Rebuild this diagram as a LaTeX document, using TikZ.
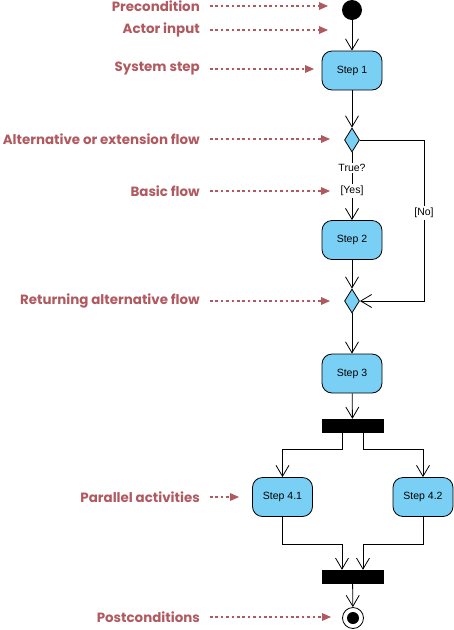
\documentclass[tikz,border=0pt]{standalone}
\usepackage{fontspec}
\setmainfont{Liberation Sans}
\newfontfamily\labelfont{Poppins}
\usetikzlibrary{arrows.meta,shapes.geometric}
\definecolor{stepblue}{RGB}{122,207,245}
\definecolor{notecol}{RGB}{176,90,96}
\tikzset{
  stepbox/.style={draw=black, line width=0.8pt, fill=stepblue, rounded corners=10pt, minimum width=60pt, minimum height=39pt, inner sep=0pt, font=\fontsize{10.5}{12}\selectfont},
  decision/.style={draw=black, line width=0.8pt, fill=stepblue, diamond, minimum width=15pt, minimum height=24pt, inner sep=0pt},
  bar/.style={fill=black, draw=black, minimum width=61pt, minimum height=13pt, inner sep=0pt},
  flow/.style={draw=black, line width=0.8pt, -{Straight Barb[length=11pt,width=13pt,line width=0.8pt]}},
  plain/.style={draw=black, line width=0.8pt},
  guard/.style={fill=white, inner sep=1.5pt, font=\fontsize{10.5}{12}\selectfont},
  note/.style={anchor=east, text=notecol, font=\labelfont\bfseries\fontsize{13.4}{15}\selectfont, inner sep=0pt},
  hint/.style={draw=notecol, line width=2.6pt, dash pattern=on 2.6pt off 2.8pt, -{Triangle[length=9pt,width=8pt,line width=0pt]}, shorten >=0pt},
}
\begin{document}
\begin{tikzpicture}[x=1pt,y=-1pt]
\useasboundingbox (0,0) rectangle (454,630);
% main flow nodes
\node[circle, fill=black, minimum size=20pt, inner sep=0pt] (start) at (352,10) {};
\node[stepbox] (s1) at (352,70.5) {Step 1};
\node[decision] (d1) at (352,140) {};
\node[guard] (true) at (352,168) {True?};
\node[guard] (yes) at (352,191) {[Yes]};
\node[stepbox] (s2) at (352,240) {Step 2};
\node[guard] (no) at (424,213) {[No]};
\node[decision] (d2) at (352,301) {};
\node[stepbox] (s3) at (352,373.5) {Step 3};
\node[bar] (bar1) at (352.5,425.5) {};
\node[stepbox] (s41) at (282.5,497) {Step 4.1};
\node[stepbox] (s42) at (423,497) {Step 4.2};
\node[bar] (bar2) at (352.5,576.5) {};
\node[circle, draw=black, line width=0.8pt, fill=white, minimum size=21pt, inner sep=0pt] (end) at (353,618) {};
\node[circle, fill=black, minimum size=12pt, inner sep=0pt] (endin) at (353,618) {};
% connectors
\draw[flow] (start) -- (s1);
\draw[flow] (s1) -- (d1);
\draw[plain] (d1.south) -- (true);
\draw[plain] (true) -- (yes);
\draw[flow] (yes) -- (s2);
\draw[plain] (d1.east) -| (no.north);
\draw[flow] (no.south) |- (d2.east);
\draw[flow] (s2) -- (d2);
\draw[flow] (d2) -- (s3);
\draw[flow] (s3) -- (bar1);
\draw[flow] ([xshift=-10.5pt]bar1.south) -- ++(0,17) -| (s41.north);
\draw[flow] ([xshift=10.5pt]bar1.south) -- ++(0,17) -| (s42.north);
\draw[flow] (s41.south) -- ++(0,27) -| ([xshift=-10.5pt]bar2.north);
\draw[flow] (s42.south) -- ++(0,27) -| ([xshift=10.5pt]bar2.north);
\draw[flow] (bar2) -- (end);
% annotations
\node[note] (n1) at (200,6) {Precondition};
\node[note] (n2) at (200,30) {Actor input};
\node[note] (n3) at (200,69) {System step};
\node[note] (n4) at (200,139) {Alternative or extension flow};
\node[note] (n5) at (200,191) {Basic flow};
\node[note] (n6) at (200,301) {Returning alternative flow};
\node[note] (n7) at (200,497) {Parallel activities};
\node[note] (n8) at (200,617) {Postconditions};
\coordinate (t1) at (328,6);
\coordinate (t2) at (328,30);
\coordinate (t3) at (314,69);
\coordinate (t4) at (330,139);
\coordinate (t5) at (330,191);
\coordinate (t6) at (330,301);
\coordinate (t7) at (239,497);
\coordinate (t8) at (331,617);
\foreach \i in {1,...,8}{
  \draw[hint] ([xshift=10pt]n\i.east) -- (t\i);
}
\end{tikzpicture}
\end{document}
